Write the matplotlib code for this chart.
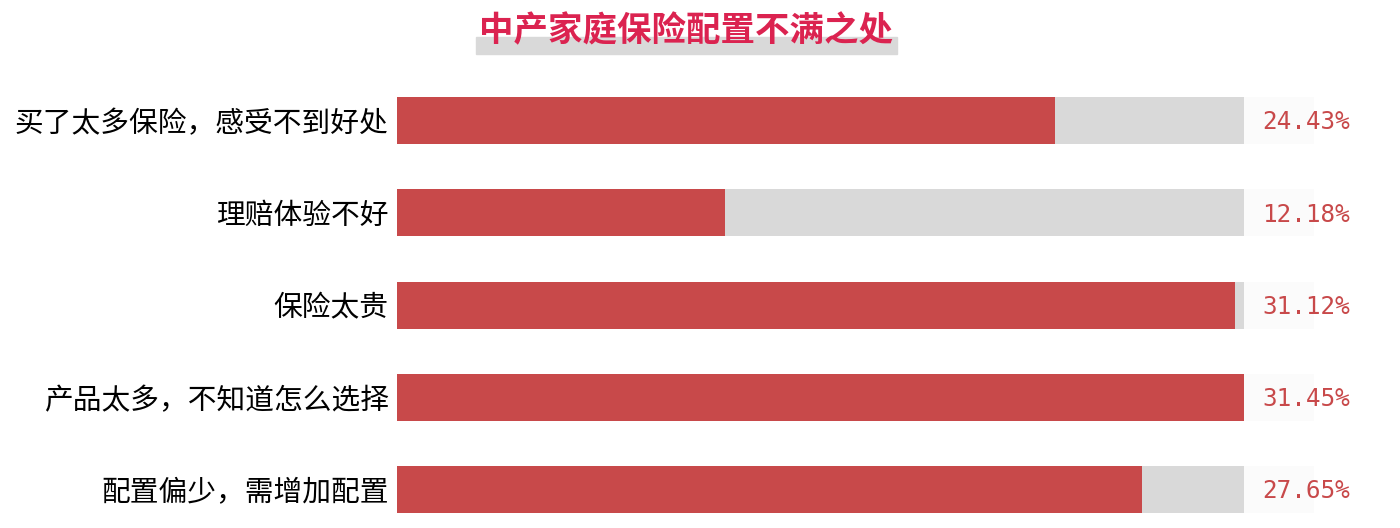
import matplotlib
matplotlib.use("Agg")
import matplotlib.pyplot as plt
from matplotlib.patches import Rectangle

plt.rcParams['font.family'] = ['Noto Sans CJK SC', 'DejaVu Sans']

title = "中产家庭保险配置不满之处"
categories = ["买了太多保险，感受不到好处", "理赔体验不好", "保险太贵",
              "产品太多，不知道怎么选择", "配置偏少，需增加配置"]
values = [24.43, 12.18, 31.12, 31.45, 27.65]
labels = ["24.43%", "12.18%", "31.12%", "31.45%", "27.65%"]

W, H = 1400, 528
fig = plt.figure(figsize=(W / 100, H / 100), dpi=100)

ax_left, ax_right = 397, 1244
ax_top, ax_bot = 90, 520
ax = fig.add_axes([ax_left / W, 1 - ax_bot / H, (ax_right - ax_left) / W, (ax_bot - ax_top) / H])

vmax = max(values)
pitch = 92.25
c0 = 120.5
y = list(range(len(categories)))
bh = 47 / pitch

ax.barh(y, [vmax] * len(y), height=bh, color="#D9D9D9", zorder=1)
ax.barh(y, values, height=bh, color="#C8494A", zorder=2)
box_w = vmax * 70 / (ax_right - ax_left)
ax.barh(y, [box_w] * len(y), left=vmax, height=bh, color="#FBFBFB", zorder=1, clip_on=False)

for yi, lab in zip(y, labels):
    ax.text(vmax * (1 + 18 / (ax_right - ax_left)), yi + 0.02, lab, ha="left", va="center",
            fontsize=17.5, color="#C8494A", family="DejaVu Sans Mono", clip_on=False)

ax.set_xlim(0, vmax)
ax.set_ylim((ax_bot - c0) / pitch, (ax_top - c0) / pitch)
ax.set_yticks(y)
ax.set_yticklabels(categories, fontsize=20.7, color="black")
ax.tick_params(axis="y", length=0, pad=6)
ax.set_xticks([])
for s in ax.spines.values():
    s.set_visible(False)

# title with gray highlight band
fig.patches.append(Rectangle((476 / W, 1 - 54 / H), (897 - 476) / W, 17 / H,
                             transform=fig.transFigure, color="#D9D9D9", zorder=0))
fig.text(686 / W, 1 - 31 / H, title, ha="center", va="center", fontsize=24.8,
         fontweight="bold", color="#DB2350", zorder=2)

fig.savefig("out.png", dpi=100)
